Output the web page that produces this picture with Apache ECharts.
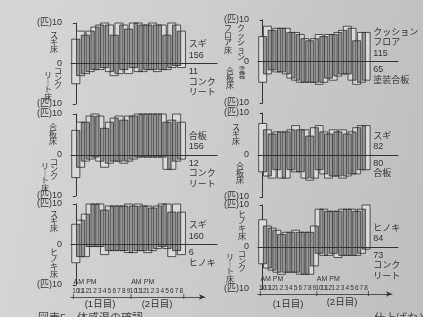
<!DOCTYPE html>
<html><head><meta charset="utf-8">
<script src="https://cdn.jsdelivr.net/npm/echarts@6.0.0/dist/echarts.min.js"></script>
<style>
html,body{margin:0;padding:0;width:423px;height:317px;overflow:hidden;
background:linear-gradient(100deg,#d6d6d4 0%,#cdcdcb 45%,#bebebc 100%);}
#c{width:423px;height:317px;}
</style></head><body><div id="c"></div>
<script>
// ---- data ----
const SLOT_LABELS = ['10','11','12','1','2','3','4','5','6','7','8','9','10','11','12','1','2','3','4','5','6','7','8'];
const PERIOD_LABELS = ['AM','','PM','','','','','','','','','','AM','','PM','','','','','','','',''];
const DAY_LABELS = ['(1日目)','(2日目)'];
const DAY_TICKS = [-0.5, 11.5, 22.5];
const Y_TICK_LABELS = {'-10':'(匹)10','0':'0','10':'(匹)10'};

const UP_1   = [6, 8, 7, 8, 9, 9.5, 10, 9.5, 7, 10, 9.5, 8.5, 10, 10, 9.5, 9.5, 10, 9.5, 9.5, 7, 10, 9.5, 8];
const DOWN_1 = [5, 3, 2.5, 2, 1.5, 1.5, 1, 2, 3, 2.5, 1.5, 2.5, 1, 2, 2, 1.5, 1.5, 2, 1.5, 1.5, 1, 0.5, 1];
const UP_2   = [6, 8.5, 7.5, 8, 8, 8, 7, 7, 6.5, 5.5, 5, 5.5, 6.5, 6, 6.5, 6.5, 7, 7.5, 8.5, 8, 5, 7, 7];
const DOWN_2 = [5, 3, 2, 2.5, 2.5, 3, 4, 4.5, 5, 5, 5, 5, 5.5, 5, 4, 4.5, 3.5, 3, 3, 4.5, 5.5, 5, 4.5];
const UP_3   = [6, 8, 8, 9.5, 10, 9.5, 6.5, 8, 9, 9.5, 8.5, 9.5, 9.5, 10, 10, 10, 10, 10, 10, 8, 8.5, 10, 8];
const DOWN_3 = [5.5, 3, 1.5, 1, 0.5, 1.5, 3, 2, 1.5, 1.5, 2, 1.5, 1, 0.5, 0.5, 0.5, 0.5, 0.5, 0.5, 3.5, 3.5, 1.5, 1];
const UP_4   = [7.5, 6, 5, 5.5, 5.5, 5.5, 6, 7, 6, 6, 4.5, 6.5, 7, 5.5, 5, 6, 5.5, 6, 5, 5.5, 6.5, 7, 7];
const DOWN_4 = [4, 5, 5.5, 3.5, 5.5, 5.5, 3.5, 4, 4, 5.5, 6, 5.5, 3.5, 4.5, 5.5, 5, 5, 5.5, 5, 4.5, 4.5, 3.5, 3.5];
const UP_5   = [5, 6, 7.5, 10, 10, 10, 8.5, 9.5, 9.5, 9.5, 9.5, 10, 9.5, 10, 9.5, 9.5, 9, 9.5, 10, 10, 8, 10, 8];
const DOWN_5 = [4.5, 3, 3, 0.5, 0.5, 0.5, 2.5, 1.5, 1.5, 1.5, 1.5, 2, 2, 1.5, 1.5, 2, 1.5, 1, 0.5, 1, 3, 1.5, 2.5];
const UP_6   = [6.5, 5, 4.5, 4, 3, 3.5, 3.5, 4, 3.5, 3.5, 3.5, 5, 9, 9, 8.5, 8.5, 8.5, 9, 9, 9, 8.5, 9, 10];
const DOWN_6 = [4, 5, 5.5, 6, 6.5, 6, 6, 6, 6.5, 6.5, 6.5, 4.5, 1.5, 2, 2, 1.5, 2.5, 2, 2, 2, 2, 1.5, 0.5];

const UPPER_NAME  = ['スギ', 'クッション\nフロア', '合板', 'スギ', 'スギ', 'ヒノキ'];
const LOWER_NAME  = ['コンク\nリート', '塗装合板', 'コンク\nリート', '合板', 'ヒノキ', 'コンク\nリート'];
const UPPER_TOTAL = [156, 115, 156, 82, 160, 84];
const LOWER_TOTAL = [11, 65, 12, 80, 6, 73];
const UPPER_AXIS_COLS = [['スギ床'], ['クッション','フロア床'], ['合板床'], ['スギ床'], ['スギ床'], ['ヒノキ床']];
const LOWER_AXIS_COLS = [['コンク','リート床'], ['塗装','合板床'], ['コンク','リート床'], ['合板床'], ['ヒノキ床'], ['コンク','リート床']];

const UPS = [UP_1, UP_2, UP_3, UP_4, UP_5, UP_6];
const DOWNS = [DOWN_1, DOWN_2, DOWN_3, DOWN_4, DOWN_5, DOWN_6];

// ---- layout ----
const PANELS = [
  {left:71,  top:23,  height:81, ppu:4.8, end:217, up:[[54,31]],           low:[[58,67],[48,71]]},
  {left:258, top:20,  height:83, ppu:4.7, end:398, up:[[241,24],[228,24]], low:[[242,66],[230,67]]},
  {left:71,  top:114, height:82, ppu:4.8, end:217, up:[[53,123]],          low:[[54,158],[45,162]]},
  {left:258, top:113, height:84, ppu:4.7, end:398, up:[[236,123]],         low:[[240,162]]},
  {left:71,  top:204, height:81, ppu:4.8, end:217, up:[[54,210]],          low:[[54,248]]},
  {left:258, top:205, height:84, ppu:4.7, end:398, up:[[242,210]],         low:[[242,250],[230,253]]}
];
const LABEL_GRIDS = [
  {panel:4, left:71,  top:279, height:18, end:205, days:[[100,304],[157,304]]},
  {panel:5, left:258, top:277, height:17, end:392, days:[[288,304],[342,302]]}
];
const H = 0.85;            // half bar width in slots
const INK = '#333';
const CJK = "'Liberation Sans','Noto Sans CJK JP',sans-serif";
const NUMF = "'Liberation Sans Narrow','Liberation Sans',sans-serif";

const grid = [], xAxis = [], yAxis = [], series = [], graphic = [];

function rectFrom(api, x0, x1, top, bot) {
  const a = api.coord([x0, top]), b = api.coord([x1, bot]);
  return {x: a[0], y: a[1], width: b[0] - a[0], height: b[1] - a[1]};
}

PANELS.forEach((P, p) => {
  const UP = UPS[p], DN = DOWNS[p];
  grid.push({left: P.left, top: P.top, width: P.end - P.left, height: P.height});
  xAxis.push({gridIndex: p, type: 'value', min: -1, max: -1 + (P.end - P.left) / P.ppu, z: 10,
    axisLine: {show: true, onZero: true, lineStyle: {color: INK, width: 1}},
    axisTick: {show: false}, axisLabel: {show: false}, splitLine: {show: false}});
  yAxis.push({gridIndex: p, type: 'value', min: -10, max: 10, interval: 10,
    axisLine: {show: true, lineStyle: {color: INK, width: 1}},
    axisTick: {show: true, length: 3, lineStyle: {color: INK}},
    splitLine: {show: false},
    axisLabel: {margin: 9, fontSize: 9, color: INK, fontFamily: CJK,
      formatter: v => Y_TICK_LABELS[String(Math.round(v))] || ''}});
  const base = {type: 'custom', xAxisIndex: p, yAxisIndex: p, silent: true, animation: false};
  series.push(Object.assign({}, base, {z: 2,
    data: UP.map((u, i) => [i, u, DN[i]]),
    renderItem: (params, api) => ({type: 'rect',
      shape: rectFrom(api, api.value(0) - H, api.value(0) + H, api.value(1), -api.value(2)),
      style: {fill: '#dadad8'}})}));
  series.push(Object.assign({}, base, {z: 3,
    data: UP.slice(1).map((u, k) => [k, UP[k], DN[k], u, DN[k + 1]]),
    renderItem: (params, api) => {
      const k = api.value(0);
      const top = Math.min(api.value(1), api.value(3));
      const bot = Math.min(api.value(2), api.value(4));
      return {type: 'rect', shape: rectFrom(api, k + 1 - H, k + H, top, -bot),
        style: {fill: '#959593'}};
    }}));
  series.push(Object.assign({}, base, {z: 4,
    data: UP.map((u, i) => [i, u, DN[i]]),
    renderItem: (params, api) => ({type: 'rect',
      shape: rectFrom(api, api.value(0) - H, api.value(0) + H, api.value(1), -api.value(2)),
      style: {fill: 'rgba(0,0,0,0)', stroke: '#2e2e2e', lineWidth: 0.8}})}));

  // vertical floor names beside the axis
  const vert = s => s.split('').map(ch => ch === 'ー' ? '｜' : ch).join('\n');
  UPPER_AXIS_COLS[p].forEach((col, c) => {
    const pos = P.up[c];
    graphic.push({type: 'text', x: pos[0], y: pos[1], silent: true,
      style: {text: vert(col), fill: INK, font: "8px 'Noto Sans CJK JP'", lineHeight: 7.3,
        align: 'center', verticalAlign: 'top'}});
  });
  LOWER_AXIS_COLS[p].forEach((col, c) => {
    const pos = P.low[c];
    const small = col === '塗装';
    graphic.push({type: 'text', x: pos[0], y: pos[1], silent: true,
      style: {text: vert(col), fill: INK, font: (small ? '6.5px' : '8px') + " 'Noto Sans CJK JP'",
        lineHeight: small ? 6.5 : 7.3, align: 'center', verticalAlign: 'top'}});
  });
  // totals at the right end
  const zeroY = P.top + P.height / 2;
  const xr = P.left + 23.9 * P.ppu + 3;
  graphic.push({type: 'text', x: xr, y: zeroY - 3, silent: true,
    style: {text: UPPER_NAME[p] + '\n' + UPPER_TOTAL[p], fill: INK, fontSize: 9, fontFamily: CJK,
      lineHeight: 10.5, align: 'left', verticalAlign: 'bottom'}});
  graphic.push({type: 'text', x: xr, y: zeroY + 3, silent: true,
    style: {text: LOWER_TOTAL[p] + '\n' + LOWER_NAME[p], fill: INK, fontSize: 9, fontFamily: CJK,
      lineHeight: 10.5, align: 'left', verticalAlign: 'top'}});
});

// time axis rows under the bottom panels
LABEL_GRIDS.forEach((L, j) => {
  const P = PANELS[L.panel];
  const g = grid.length;
  grid.push({left: L.left, top: L.top, width: L.end - L.left, height: L.height});
  xAxis.push({gridIndex: g, type: 'value', min: -1, max: -1 + (L.end - L.left) / P.ppu, interval: 1,
    position: 'bottom',
    axisLine: {show: true, onZero: false, symbol: ['none', 'arrow'], symbolSize: [4, 6],
      lineStyle: {color: INK, width: 0.8}},
    axisTick: {show: false}, splitLine: {show: false},
    axisLabel: {inside: true, margin: 2, interval: 0, showMinLabel: true, showMaxLabel: true,
      formatter: v => {
        const i = Math.round(v);
        if (Math.abs(v - i) > 1e-6 || i < 0 || i >= SLOT_LABELS.length) return '';
        const per = PERIOD_LABELS[i];
        if (!per) return '{n|' + SLOT_LABELS[i] + '}';
        return '{' + (per === 'AM' ? 'am' : 'pm') + '|' + per + '}\n{n|' + SLOT_LABELS[i] + '}';
      },
      rich: {
        n:  {fontSize: 6.5, fontFamily: NUMF, color: INK, lineHeight: 8},
        am: {fontSize: 7, fontFamily: NUMF, color: INK, lineHeight: 10, padding: [0, 0, 0, 6]},
        pm: {fontSize: 7, fontFamily: NUMF, color: INK, lineHeight: 10, padding: [0, 0, 0, 12]}
      }}});
  yAxis.push({gridIndex: g, type: 'value', min: 0, max: 1, show: false});
  series.push({type: 'custom', xAxisIndex: g, yAxisIndex: g, silent: true, animation: false, z: 5,
    data: DAY_TICKS.map(v => [v, 0]),
    renderItem: (params, api) => {
      const c = api.coord([api.value(0), 0]);
      return {type: 'line', shape: {x1: c[0], y1: c[1] - 3, x2: c[0], y2: c[1] + 2},
        style: {stroke: INK, lineWidth: 0.8}};
    }});
  DAY_LABELS.forEach((d, k) => {
    graphic.push({type: 'text', x: L.days[k][0], y: L.days[k][1], silent: true,
      style: {text: d, fill: INK, fontSize: 9.5, fontFamily: CJK, align: 'center', verticalAlign: 'middle'}});
  });
});

// partially cropped caption line at the page bottom
graphic.push({type: 'text', x: 38, y: 313, silent: true,
  style: {text: '図表5　体感温の確認', fill: '#444', fontSize: 11, fontFamily: CJK, verticalAlign: 'top'}});
graphic.push({type: 'text', x: 352, y: 313, silent: true,
  style: {text: 'ー、仕上げなど', fill: '#444', fontSize: 11, fontFamily: CJK, verticalAlign: 'top'}});

const chart = echarts.init(document.getElementById('c'), null, {renderer: 'canvas'});
chart.setOption({backgroundColor: 'transparent', animation: false,
  grid, xAxis, yAxis, series, graphic});
</script></body></html>
